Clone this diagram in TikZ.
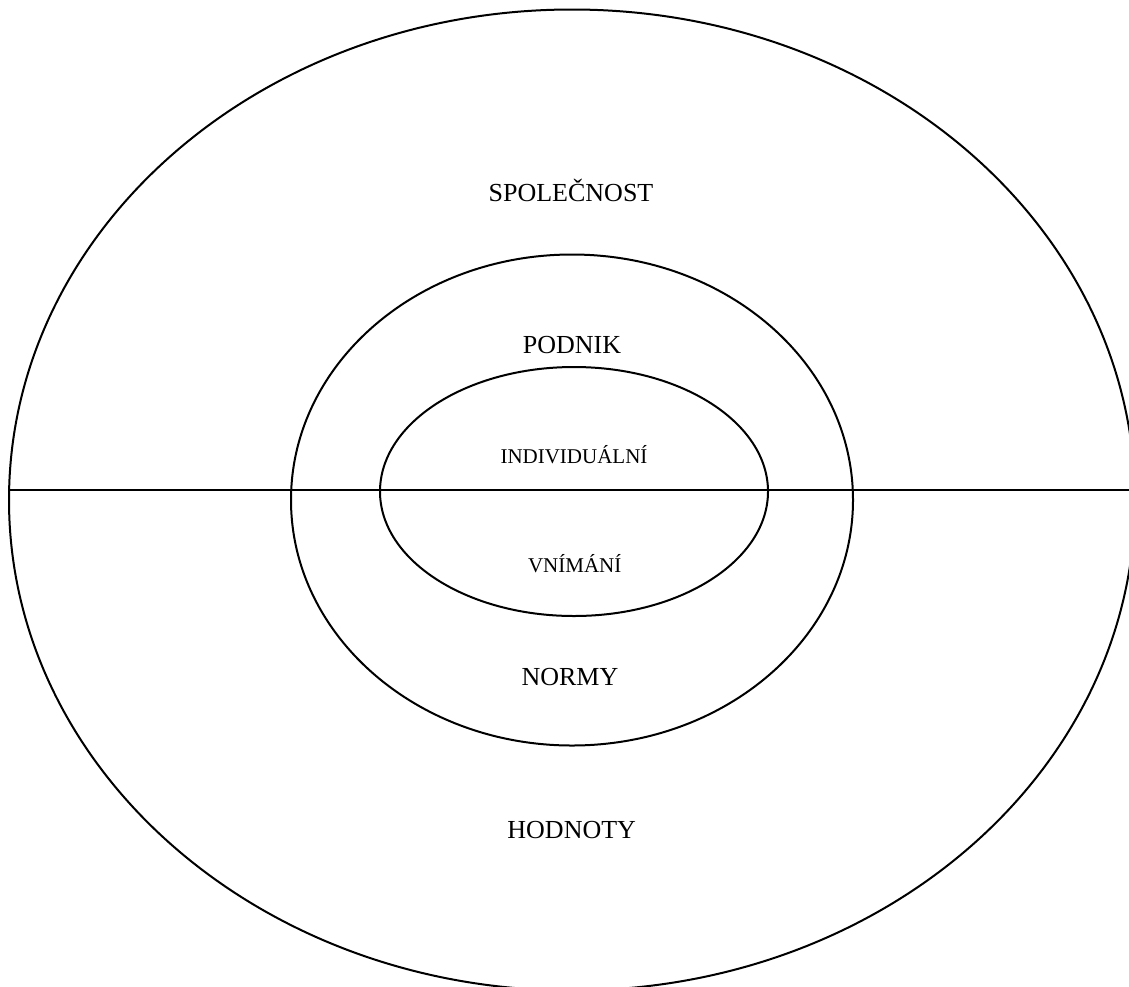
\documentclass[tikz,border=0pt]{standalone}
\usepackage{fontspec}
\setmainfont{Liberation Serif}
\tikzset{
  ring/.style={draw=black, line width=2pt},
  bigtxt/.style={anchor=base, inner sep=0pt, font=\fontsize{26}{30}\selectfont},
  smalltxt/.style={anchor=base, inner sep=0pt, font=\fontsize{21}{25}\selectfont}
}
\begin{document}
\begin{tikzpicture}[x=1pt, y=-1pt]
\useasboundingbox (0,0) rectangle (1129,986);
\clip (0,0) rectangle (1129,986);
\fill[white] (0,0) rectangle (1129,986);
% ellipses
\draw[ring] (572,500) ellipse [x radius=563, y radius=490.5];
\draw[ring] (572,500) ellipse [x radius=281, y radius=245.5];
\draw[ring] (574,491.5) ellipse [x radius=194, y radius=124.5];
% dividing line
\coordinate (lineL) at (10,490);
\coordinate (lineR) at (1129,490);
\draw[line width=2pt] (lineL) -- (lineR);
% labels
\node[bigtxt] (spol) at (571,201) {SPOLEČNOST};
\node[bigtxt] (podnik) at (572,353.3) {PODNIK};
\node[smalltxt] (indiv) at (574,463.3) {INDIVIDUÁLNÍ};
\node[smalltxt] (vnim) at (574.7,572.7) {VNÍMÁNÍ};
\node[bigtxt] (normy) at (570,685.7) {NORMY};
\node[bigtxt] (hodn) at (571.7,838.3) {HODNOTY};
\end{tikzpicture}
\end{document}
